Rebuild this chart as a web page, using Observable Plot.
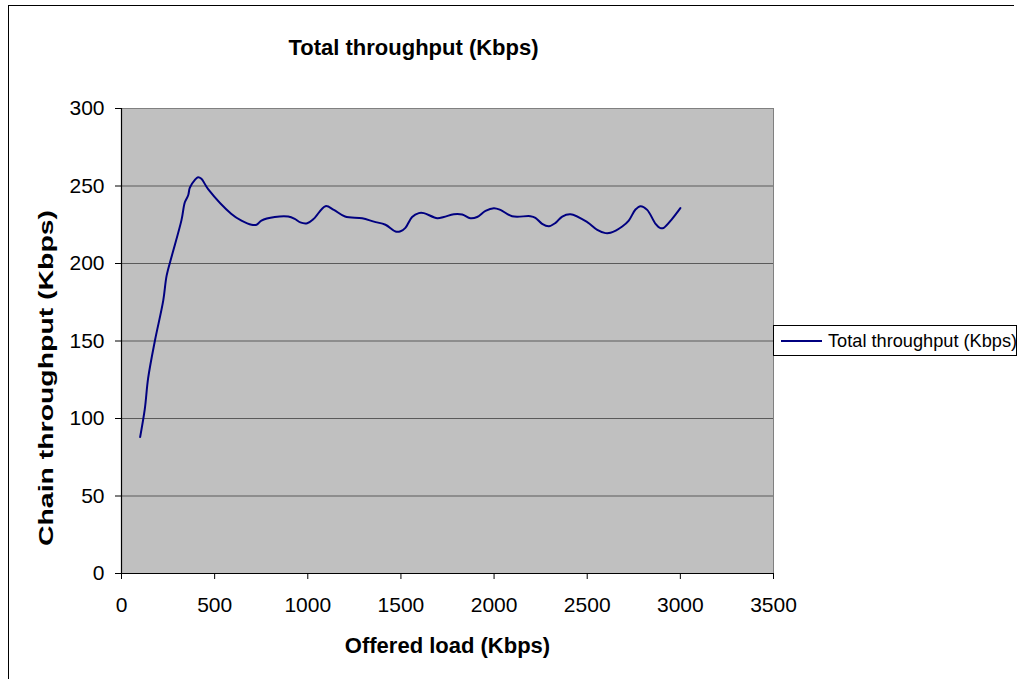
<!DOCTYPE html>
<html>
<head>
<meta charset="utf-8">
<script src="https://cdn.jsdelivr.net/npm/d3@7"></script>
<script src="https://cdn.jsdelivr.net/npm/@observablehq/plot@0.6"></script>
<style>
  html, body { margin: 0; padding: 0; background: #fff; }
  #wrap { position: relative; width: 1018px; height: 679px; overflow: hidden; font-family: "Liberation Sans", Arial, sans-serif; }
  #border { position: absolute; left: 8px; top: 5px; width: 1005px; height: 700px; border-left: 1.5px solid #000; border-top: 1.5px solid #000; }
  #chart { position: absolute; left: 0; top: 0; }
  #legend { position: absolute; left: 773px; top: 325px; width: 244px; height: 31px; border: 1px solid #000; background: #fff; box-sizing: border-box; }
  #legend .swatch { position: absolute; left: 7px; top: 14px; width: 41px; height: 0; border-top: 2px solid #000080; }
  #legend .lbl { position: absolute; left: 54px; top: 4px; font-size: 18.2px; line-height: 22px; color: #000; white-space: nowrap; }
</style>
</head>
<body>
<div id="wrap">
  <div id="border"></div>
  <div id="chart"></div>
  <div id="legend"><div class="swatch"></div><div class="lbl">Total throughput (Kbps)</div></div>
</div>
<script>
const titleText = "Total throughput (Kbps)";
const xLabel = "Offered load (Kbps)";
const yLabel = "Chain throughput (Kbps)";
const seriesName = "Total throughput (Kbps)";

const offeredLoad = [100, 125, 143, 179, 224, 242, 268, 322, 340, 358, 367, 394, 411, 429, 465, 590, 644, 698, 725, 751, 823, 895, 930, 960, 997, 1032, 1095, 1140, 1200, 1292, 1355, 1417, 1471, 1498, 1524, 1560, 1596, 1623, 1695, 1730, 1784, 1829, 1873, 1909, 1954, 1999, 2034, 2097, 2195, 2222, 2258, 2294, 2330, 2366, 2410, 2500, 2554, 2598, 2625, 2688, 2723, 2759, 2786, 2822, 2867, 2893, 2911, 2956, 3000];
const throughput = [88, 106, 126, 150, 176, 192, 204, 228, 239.5, 244, 249, 254, 255.7, 254.6, 248, 232, 227.7, 225, 225, 227.7, 230, 230.3, 228.8, 226.5, 226, 228.8, 237, 234.6, 230.3, 229.2, 227, 225, 220.6, 220.8, 223, 230, 232.5, 232.5, 229.2, 230, 231.8, 231.6, 229.2, 230, 234, 235.7, 234.6, 230.5, 230.5, 229.5, 225.6, 224, 226.2, 230.3, 231.8, 226.7, 221.7, 219.6, 219.8, 223.9, 227.7, 234.8, 237, 234.6, 225.6, 222.8, 223, 228.8, 235.7];

const xTicks = [0, 500, 1000, 1500, 2000, 2500, 3000, 3500];
const yTicks = [0, 50, 100, 150, 200, 250, 300];
const yGrid = [50, 100, 150, 200, 250];

const data = offeredLoad.map((x, i) => ({x, y: throughput[i]}));

const font = "'Liberation Sans', Arial, sans-serif";

const chart = Plot.plot({
  width: 1018,
  height: 679,
  marginLeft: 121,
  marginTop: 108,
  marginRight: 245,
  marginBottom: 106,
  style: {fontFamily: font, fontSize: "21px", color: "#000", background: "transparent"},
  x: {domain: [0, 3500], ticks: xTicks},
  y: {domain: [0, 300], ticks: yTicks},
  marks: [
    Plot.frame({fill: "#C0C0C0", stroke: "#808080"}),
    Plot.gridY(yGrid, {stroke: "#5a5a5a", strokeOpacity: 1, strokeWidth: 1.2}),
    Plot.ruleX([0], {stroke: "#000", strokeWidth: 1.2}),
    Plot.ruleY([0], {stroke: "#000", strokeWidth: 1.2}),
    Plot.axisX(xTicks, {tickSize: 6, tickPadding: 18, label: null, fontSize: 21, tickFormat: d => String(d)}),
    Plot.axisY(yTicks, {tickSize: 6, tickPadding: 11, label: null, fontSize: 21, tickFormat: d => String(d)}),
    Plot.line(data, {x: "x", y: "y", stroke: "#000080", strokeWidth: 2, curve: "catmull-rom"}),
    Plot.text([titleText], {frameAnchor: "top", dx: -34, dy: -61, fontSize: 22, fontWeight: "bold", lineAnchor: "middle", textAnchor: "middle"}),
    Plot.text([xLabel], {frameAnchor: "bottom", dy: 72, fontSize: 22, fontWeight: "bold", lineAnchor: "middle", textAnchor: "middle"}),
    Plot.text([yLabel], {frameAnchor: "left", dx: -75, dy: 37, rotate: -90, fontSize: 21, fontWeight: "bold", lineAnchor: "middle", textAnchor: "middle", className: "ylab"})
  ]
});
document.getElementById("chart").appendChild(chart);
d3.select(chart).selectAll(".ylab text")
  .attr("textLength", 336)
  .attr("lengthAdjust", "spacingAndGlyphs");
</script>
</body>
</html>
